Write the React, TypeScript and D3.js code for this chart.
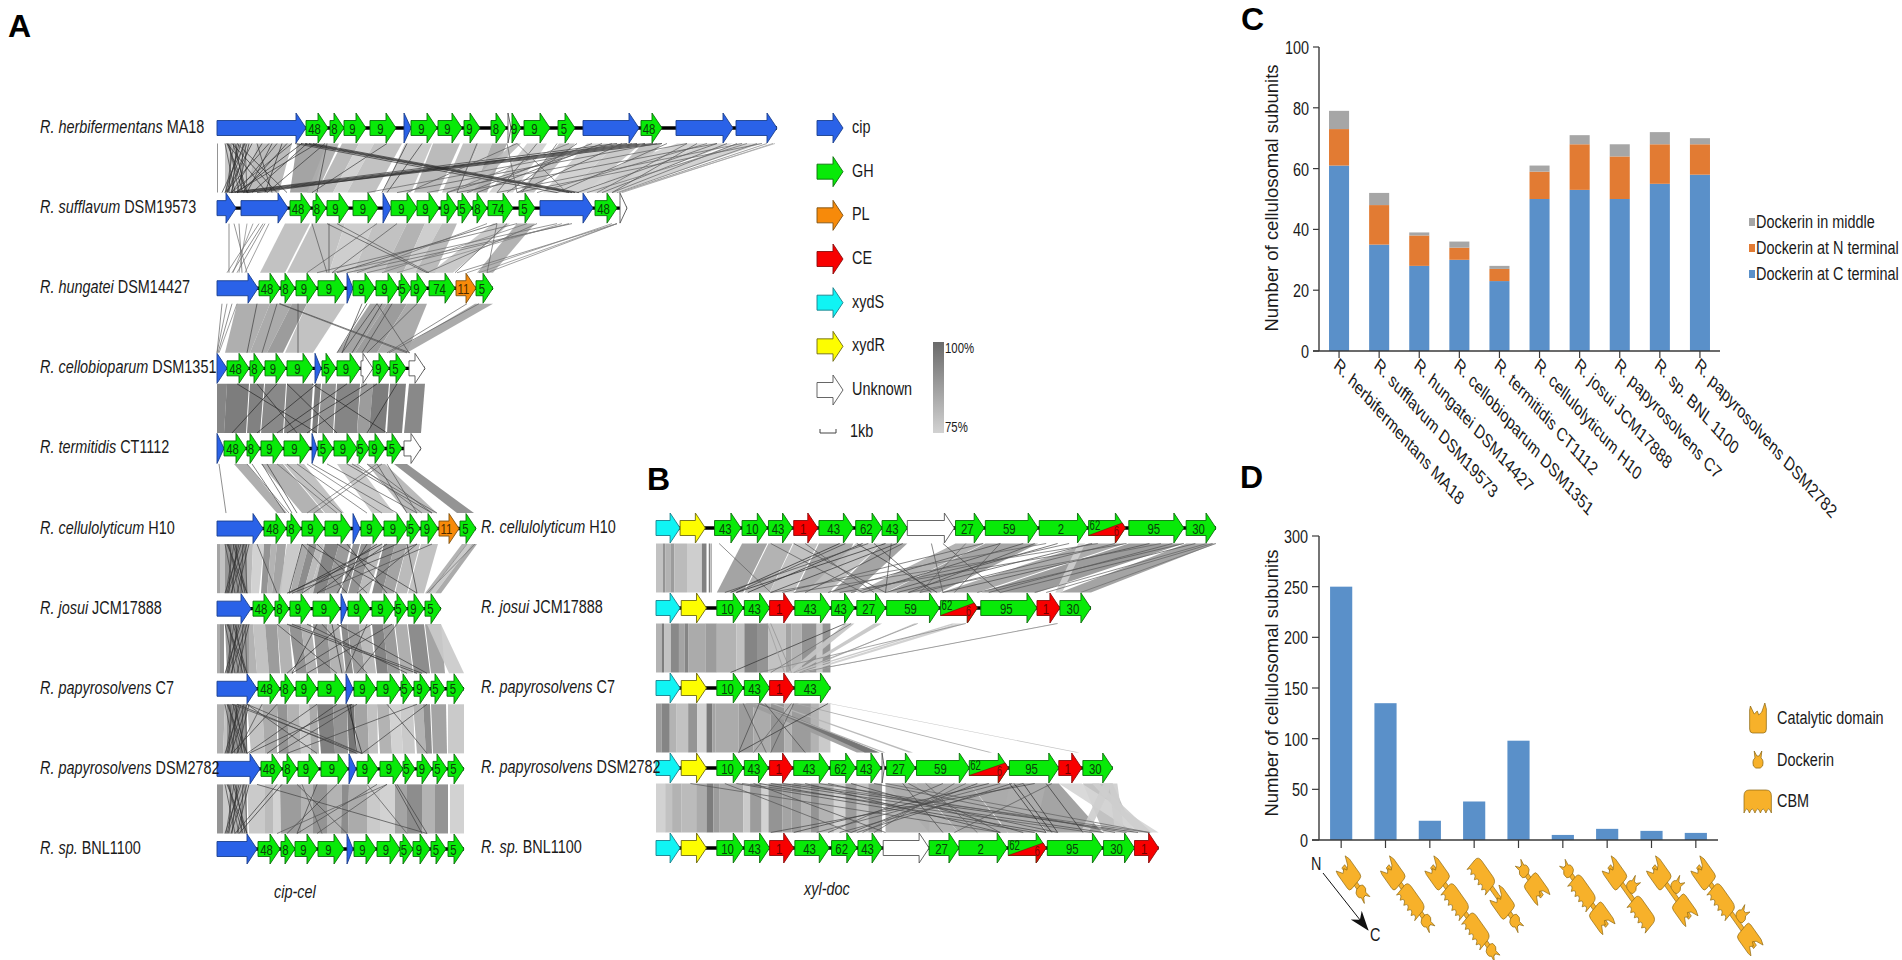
import React from 'react';
import * as d3 from 'd3';

type GeneType = 'cip' | 'GH' | 'PL' | 'CE' | 'xydS' | 'xydR' | 'unk' | 'chim';
type Gene = [GeneType, string, number, number];
type Ribbon = [number, number, number, number, number]; // top from, top to, bottom from, bottom to, identity %
type Stripe = [number, number, number]; // from, to, identity %
type Link = [number, number, number]; // top, bottom, identity %

// panel A gene tracks
const herbifermentans: Gene[] = [
  ['cip', '', 0, 89], ['GH', '48', 89, 111], ['GH', '8', 113, 127], ['GH', '9', 127, 149], ['GH', '9', 153, 179],
  ['cip', '', 187, 194], ['GH', '9', 194, 220], ['GH', '9', 221, 245], ['GH', '9', 247, 263], ['GH', '8', 274, 289],
  ['unk', '', 291, 294], ['GH', '9', 295, 304], ['GH', '9', 307, 333], ['GH', '5', 341, 358], ['cip', '', 366, 422],
  ['GH', '48', 424, 445], ['cip', '', 459, 516], ['cip', '', 519, 560],
];
const sufflavum: Gene[] = [
  ['cip', '', 0, 19], ['cip', '', 24, 71], ['GH', '48', 73, 94], ['GH', '8', 96, 109], ['GH', '9', 110, 132],
  ['GH', '9', 136, 161], ['cip', '', 166, 174], ['GH', '9', 174, 200], ['GH', '9', 200, 222], ['GH', '9', 224, 240],
  ['GH', '5', 241, 255], ['GH', '8', 256, 270], ['GH', '74', 271, 296], ['GH', '5', 302, 318], ['cip', '', 323, 376],
  ['GH', '48', 378, 400], ['unk', '', 403, 410],
];
const hungatei: Gene[] = [
  ['cip', '', 0, 41], ['GH', '48', 42, 63], ['GH', '8', 64, 78], ['GH', '9', 79, 100], ['GH', '9', 101, 128],
  ['cip', '', 130, 136], ['GH', '9', 136, 158], ['GH', '9', 159, 181], ['GH', '5', 182, 194], ['GH', '9', 194, 210],
  ['GH', '74', 212, 238], ['PL', '11', 239, 259], ['GH', '5', 259, 276],
];
const cellobioparum: Gene[] = [
  ['cip', '', 0, 10], ['GH', '48', 10, 32], ['GH', '8', 33, 47], ['GH', '9', 48, 69], ['GH', '9', 70, 96],
  ['cip', '', 98, 104], ['GH', '5', 105, 119], ['GH', '9', 120, 143], ['unk', '', 144, 156], ['GH', '9', 156, 172],
  ['GH', '5', 173, 189], ['unk', '', 192, 208],
];
const termitidis: Gene[] = [
  ['cip', '', 0, 7], ['GH', '48', 7, 29], ['GH', '8', 30, 43], ['GH', '9', 44, 66], ['GH', '9', 67, 93],
  ['cip', '', 95, 100], ['GH', '5', 101, 116], ['GH', '9', 117, 140], ['GH', '5', 140, 152], ['GH', '9', 152, 168],
  ['GH', '5', 170, 185], ['unk', '', 187, 204],
];
const cellulolyticum: Gene[] = [
  ['cip', '', 0, 46], ['GH', '48', 47, 69], ['GH', '8', 70, 84], ['GH', '9', 85, 107], ['GH', '9', 108, 134],
  ['cip', '', 136, 143], ['GH', '9', 144, 166], ['GH', '9', 167, 190], ['GH', '5', 190, 203], ['GH', '9', 204, 221],
  ['PL', '11', 222, 242], ['GH', '5', 243, 259],
];
const josui: Gene[] = [
  ['cip', '', 0, 34], ['GH', '48', 36, 57], ['GH', '8', 58, 72], ['GH', '9', 73, 94], ['GH', '9', 96, 123],
  ['cip', '', 124, 130], ['GH', '9', 131, 153], ['GH', '9', 155, 177], ['GH', '5', 178, 190], ['GH', '9', 191, 207],
  ['GH', '5', 208, 224],
];
const papyrosolvensC7: Gene[] = [
  ['cip', '', 0, 40], ['GH', '48', 41, 63], ['GH', '8', 64, 78], ['GH', '9', 79, 100], ['GH', '9', 101, 128],
  ['cip', '', 129, 136], ['GH', '9', 137, 159], ['GH', '9', 160, 183], ['GH', '5', 184, 196], ['GH', '9', 197, 213],
  ['GH', '5', 214, 228], ['GH', '5', 230, 247],
];
const papyrosolvensDSM: Gene[] = [
  ['cip', '', 0, 43], ['GH', '48', 44, 65], ['GH', '8', 66, 80], ['GH', '9', 81, 102], ['GH', '9', 104, 131],
  ['cip', '', 132, 139], ['GH', '9', 140, 161], ['GH', '9', 163, 186], ['GH', '5', 186, 198], ['GH', '9', 200, 215],
  ['GH', '5', 216, 230], ['GH', '5', 231, 247],
];
const bnl1100: Gene[] = [
  ['cip', '', 0, 40], ['GH', '48', 41, 63], ['GH', '8', 64, 78], ['GH', '9', 78, 100], ['GH', '9', 101, 127],
  ['cip', '', 130, 136], ['GH', '9', 137, 159], ['GH', '9', 160, 183], ['GH', '5', 183, 196], ['GH', '9', 196, 213],
  ['GH', '5', 214, 229], ['GH', '5', 231, 247],
];
const tracksA = [herbifermentans, sufflavum, hungatei, cellobioparum, termitidis, cellulolyticum, josui, papyrosolvensC7, papyrosolvensDSM, bnl1100];

// panel B gene tracks
const xylCellulolyticum: Gene[] = [
  ['xydS', '', 0, 21], ['xydR', '', 21, 43], ['GH', '43', 51, 74], ['GH', '10', 75, 97], ['GH', '43', 98, 119],
  ['CE', '1', 120, 141], ['GH', '43', 142, 172], ['GH', '62', 174, 197], ['GH', '43', 197, 219], ['unk', '', 219, 260],
  ['GH', '27', 261, 286], ['GH', '59', 287, 333], ['GH', '2', 334, 376], ['chim', '62', 377, 409], ['GH', '95', 412, 460],
  ['GH', '30', 462, 488],
];
const xylJosui: Gene[] = [
  ['xydS', '', 0, 21], ['xydR', '', 22, 44], ['GH', '10', 53, 76], ['GH', '43', 77, 99], ['CE', '1', 99, 120],
  ['GH', '43', 121, 152], ['GH', '43', 153, 173], ['GH', '27', 175, 200], ['GH', '59', 201, 247], ['chim', '62', 248, 280],
  ['GH', '95', 283, 332], ['CE', '1', 332, 352], ['GH', '30', 352, 379],
];
const xylC7: Gene[] = [
  ['xydS', '', 0, 21], ['xydR', '', 22, 44], ['GH', '10', 53, 76], ['GH', '43', 77, 99], ['CE', '1', 99, 120], ['GH', '43', 121, 152],
];
const xylDSM: Gene[] = [
  ['xydS', '', 0, 21], ['xydR', '', 22, 44], ['GH', '10', 53, 76], ['GH', '43', 77, 98], ['CE', '1', 99, 119],
  ['GH', '43', 120, 151], ['GH', '62', 152, 174], ['GH', '43', 175, 196], ['unk', '', 197, 199], ['GH', '27', 201, 226],
  ['GH', '59', 227, 273], ['chim', '62', 273, 307], ['GH', '95', 308, 351], ['CE', '1', 351, 371], ['GH', '30', 372, 398],
];
const xylBNL: Gene[] = [
  ['xydS', '', 0, 21], ['xydR', '', 22, 44], ['GH', '10', 53, 76], ['GH', '43', 77, 99], ['CE', '1', 99, 120],
  ['GH', '43', 121, 151], ['GH', '62', 153, 175], ['GH', '43', 176, 197], ['unk', '', 198, 238], ['GH', '27', 238, 264],
  ['GH', '2', 264, 306], ['chim', '62', 307, 340], ['GH', '95', 341, 389], ['GH', '30', 390, 417], ['CE', '1', 417, 438],
];
const tracksB = [xylCellulolyticum, xylJosui, xylC7, xylDSM, xylBNL];

const speciesA: [string, string][] = [
  ['R. herbifermentans', 'MA18'], ['R. sufflavum', 'DSM19573'], ['R. hungatei', 'DSM14427'], ['R. cellobioparum', 'DSM1351'],
  ['R. termitidis', 'CT1112'], ['R. cellulolyticum', 'H10'], ['R. josui', 'JCM17888'], ['R. papyrosolvens', 'C7'],
  ['R. papyrosolvens', 'DSM2782'], ['R. sp.', 'BNL1100'],
];
const speciesB = speciesA.slice(5);

// homology between neighbouring tracks of panel A
const cipTangle: Link[] = [
  [10, 30, 98], [14, 12, 96], [18, 28, 99], [22, 10, 98], [26, 24, 97], [30, 14, 99], [12, 22, 95], [24, 8, 98], [8, 18, 96], [28, 30, 94],
  [16, 30, 97], [20, 15, 99], [32, 20, 98], [11, 26, 97], [27, 11, 96], [17, 9, 95],
];
const ribbonsA1: Ribbon[] = [
  [0, 1, 0, 1, 92], [8, 40, 8, 32, 78], [40, 75, 30, 62, 82], [80, 110, 73, 96, 88], [110, 122, 90, 100, 84], [125, 142, 100, 116, 82],
  [142, 157, 116, 130, 76], [157, 185, 130, 158, 80], [188, 215, 166, 194, 78], [216, 243, 197, 221, 82], [246, 262, 225, 241, 80], [262, 275, 241, 256, 77], [275, 290, 256, 270, 85],
  [296, 304, 241, 254, 80], [310, 330, 272, 296, 76], [342, 358, 302, 317, 80], [370, 400, 326, 350, 76], [400, 424, 350, 368, 78],
  [426, 445, 378, 400, 80], [460, 490, 330, 360, 76], [490, 516, 360, 380, 76], [520, 545, 380, 398, 76],
];
const linesA1: Link[] = [
  ...cipTangle,
  [10, 50, 98], [15, 60, 99], [20, 70, 98], [28, 5, 97], [35, 10, 98], [45, 15, 99], [52, 8, 98], [60, 20, 97], [70, 25, 99], [40, 55, 97],
  [55, 30, 98], [65, 48, 99], [75, 14, 97], [85, 20, 99], [90, 35, 98], [100, 18, 98], [108, 50, 97],
  [84, 352, 100], [88, 355, 100], [92, 358, 100], [96, 362, 98], [78, 340, 98], [420, 14, 100], [428, 20, 100], [436, 26, 99], [445, 30, 100],
  [410, 40, 98], [400, 12, 97], [110, 100, 97], [170, 95, 96], [190, 165, 98], [205, 170, 97], [260, 240, 94], [290, 300, 90], [300, 350, 90],
  [320, 280, 92], [340, 305, 90], [360, 290, 92], [375, 250, 92], [385, 260, 94], [395, 230, 92], [405, 300, 94], [450, 340, 92], [470, 380, 90],
  [480, 395, 92], [490, 320, 90], [500, 360, 92], [510, 385, 92], [520, 395, 90], [530, 370, 88], [540, 400, 88], [550, 402, 86], [556, 405, 82],
  [558, 402, 78], [545, 300, 90], [525, 280, 90], [500, 240, 92], [470, 210, 90], [440, 180, 92], [415, 150, 90], [352, 230, 88], [300, 190, 92],
];
const ribbonsA2: Ribbon[] = [
  [68, 93, 43, 68, 80], [95, 128, 70, 112, 80], [128, 157, 112, 136, 77], [157, 190, 136, 166, 80], [190, 208, 166, 186, 84], [208, 225, 186, 198, 77], [225, 240, 198, 218, 82],
  [276, 293, 213, 236, 78], [300, 318, 260, 276, 84],
];
const linesA2: Link[] = [
  [12, 12, 90], [17, 30, 88], [46, 15, 90], [48, 20, 88], [36, 16, 86], [42, 10, 88], [30, 22, 84], [22, 25, 90], [52, 28, 86],
  [400, 240, 88], [400, 262, 84], [400, 270, 86], [395, 250, 85], [280, 270, 90], [290, 238, 92], [320, 210, 90], [355, 130, 90], [352, 150, 88],
  [340, 115, 88], [300, 100, 90], [280, 120, 94], [110, 210, 94], [120, 212, 92], [95, 110, 92], [112, 112, 94], [180, 115, 92], [160, 90, 90],
  [345, 180, 84], [310, 165, 86], [270, 140, 88],
];
const ribbonsA3: Ribbon[] = [
  [20, 53, 8, 33, 85], [53, 75, 33, 50, 86], [75, 90, 50, 66, 90], [90, 128, 68, 96, 80], [153, 170, 120, 138, 88], [170, 190, 138, 160, 90],
  [190, 210, 160, 190, 86], [258, 276, 175, 190, 86],
];
const linesA3: Link[] = [
  [5, 0, 90], [10, 0, 88], [15, 1, 90], [20, 2, 86], [150, 120, 95], [160, 125, 96], [165, 135, 97], [175, 145, 95], [63, 193, 94], [62, 190, 92],
  [81, 81, 95], [160, 192, 93], [145, 125, 96], [250, 170, 90], [262, 172, 90], [40, 30, 96], [60, 45, 94], [200, 150, 94],
];
const ribbonsA4: Ribbon[] = [
  [0, 10, 0, 7, 96], [10, 32, 7, 29, 98], [33, 47, 30, 43, 97], [48, 69, 44, 66, 95], [70, 96, 67, 93, 96], [98, 104, 95, 100, 98],
  [105, 119, 101, 116, 92], [120, 143, 117, 140, 96], [144, 156, 140, 152, 90], [156, 172, 152, 168, 98], [173, 189, 170, 185, 97], [192, 208, 187, 204, 95],
];
const linesA4: Link[] = [
  [20, 100, 100], [60, 15, 100], [70, 120, 100], [130, 60, 100], [95, 170, 100], [160, 90, 100], [180, 150, 100], [40, 80, 99], [100, 40, 100], [150, 70, 99],
];
const ribbonsA5: Ribbon[] = [
  [17, 30, 60, 70, 85], [44, 66, 85, 107, 84], [67, 87, 108, 127, 80], [120, 140, 155, 177, 78], [150, 168, 190, 220, 82], [177, 190, 240, 257, 92],
];
const linesA5: Link[] = [
  [2, 9, 90], [165, 97, 90], [160, 90, 88], [110, 200, 92], [130, 215, 94], [135, 220, 92], [80, 150, 90], [95, 180, 92], [160, 190, 94], [170, 200, 92],
  [60, 120, 90], [45, 75, 94], [50, 80, 96], [90, 165, 88], [30, 72, 90], [35, 68, 94], [70, 125, 92], [140, 205, 90], [150, 215, 92],
];
const ribbonsA6: Ribbon[] = [
  [0, 3, 0, 3, 88], [3, 8, 3, 8, 80], [8, 30, 8, 30, 92], [30, 36, 30, 34, 82], [36, 47, 34, 42, 76], [47, 54, 44, 50, 92], [54, 60, 50, 55, 84], [60, 69, 55, 64, 88],
  [70, 84, 62, 72, 78], [85, 92, 73, 79, 86], [92, 100, 79, 86, 94], [100, 107, 86, 92, 82], [107, 108, 92, 96, 80], [108, 122, 96, 108, 96], [122, 134, 108, 122, 90],
  [136, 143, 124, 130, 92], [144, 155, 131, 141, 92], [155, 166, 141, 152, 82], [167, 178, 155, 165, 94], [178, 190, 165, 177, 88], [190, 203, 178, 190, 82],
  [204, 221, 191, 207, 80], [245, 250, 208, 212, 84], [250, 255, 212, 218, 78], [255, 260, 218, 224, 86],
];
const linesA6: Link[] = [
  ...cipTangle,
  [85, 72, 100], [85, 130, 98], [100, 150, 96], [90, 180, 97], [165, 72, 100], [160, 85, 98], [180, 70, 98], [200, 75, 96], [190, 200, 98], [120, 200, 97],
  [130, 170, 99], [150, 120, 98], [170, 100, 97], [40, 60, 95], [200, 140, 96], [215, 100, 94], [258, 210, 88], [250, 212, 84],
];
const ribbonsA7: Ribbon[] = [
  [0, 3, 0, 3, 86], [3, 7, 3, 7, 92], [8, 32, 10, 32, 90], [32, 36, 32, 40, 84], [36, 48, 40, 52, 80], [48, 60, 52, 63, 90], [60, 72, 64, 76, 84], [72, 84, 79, 90, 92], [84, 94, 90, 100, 84],
  [96, 110, 101, 114, 92], [110, 122, 114, 128, 84], [124, 130, 129, 136, 94], [130, 142, 137, 148, 90], [142, 153, 148, 159, 82], [155, 166, 160, 171, 96], [166, 177, 171, 183, 90],
  [178, 190, 184, 196, 85], [191, 207, 197, 213, 94], [208, 224, 214, 228, 88], [210, 224, 232, 247, 77],
];
const linesA7: Link[] = [
  ...cipTangle,
  [100, 75, 98], [115, 125, 97], [60, 120, 96], [75, 205, 96], [155, 75, 97], [105, 150, 96], [125, 70, 98], [150, 128, 96], [175, 90, 97], [180, 140, 95],
  [70, 200, 98], [120, 210, 97], [90, 190, 97],
];
const ribbonsA8: Ribbon[] = [
  [0, 8, 0, 6, 85], [8, 10, 6, 10, 80], [10, 30, 10, 30, 92], [30, 45, 34, 48, 80], [45, 60, 48, 60, 86], [60, 70, 62, 72, 92], [70, 82, 72, 84, 84], [82, 92, 84, 94, 78], [92, 100, 94, 102, 86],
  [100, 116, 104, 118, 97], [116, 130, 118, 131, 92], [130, 137, 132, 139, 100], [137, 150, 140, 152, 88], [150, 160, 152, 161, 80], [160, 172, 163, 175, 84], [172, 183, 175, 186, 76],
  [183, 196, 186, 198, 78], [196, 206, 200, 209, 84], [206, 213, 209, 215, 94], [214, 229, 216, 230, 88], [231, 247, 231, 247, 78],
];
const linesA8: Link[] = [
  ...cipTangle,
  [60, 15, 98], [45, 20, 96], [30, 100, 96], [20, 140, 97], [100, 30, 96], [120, 50, 98], [135, 32, 97], [140, 60, 96], [200, 70, 95], [210, 145, 96], [170, 210, 95],
  [130, 145, 100], [133, 140, 100], [30, 145, 95], [15, 145, 94],
];
const ribbonsA9: Ribbon[] = [
  [0, 6, 0, 6, 92], [6, 12, 6, 12, 78], [12, 30, 12, 30, 84], [30, 48, 32, 48, 78], [48, 56, 48, 56, 82], [56, 63, 56, 64, 76], [63, 84, 64, 84, 90], [84, 96, 84, 96, 84], [96, 110, 96, 110, 92], [110, 125, 110, 124, 84],
  [125, 132, 124, 131, 94], [132, 150, 131, 150, 86], [150, 163, 150, 163, 78], [163, 178, 163, 178, 76], [178, 190, 178, 190, 88], [190, 205, 190, 205, 94], [205, 218, 205, 218, 84],
  [218, 231, 218, 231, 92], [233, 247, 233, 247, 76],
];
const linesA9: Link[] = [
  ...cipTangle,
  [65, 22, 99], [60, 18, 98], [40, 210, 95], [80, 130, 94], [100, 80, 96], [160, 80, 94], [120, 70, 96], [170, 60, 92], [180, 210, 96], [178, 205, 96], [150, 190, 92],
  [170, 100, 93], [85, 105, 92],
];

// homology between neighbouring tracks of panel B
const stripesB1: Stripe[] = [[0, 6, 80], [6, 8, 92], [8, 13, 84], [13, 16, 90], [16, 27, 82], [27, 40, 77], [40, 44, 97], [46, 47, 100], [47.5, 48.5, 94]];
const ribbonsB1: Ribbon[] = [
  [75, 97, 53, 76, 88], [98, 119, 77, 99, 84], [120, 141, 99, 120, 80], [142, 172, 121, 152, 86], [197, 219, 153, 173, 88], [261, 286, 175, 200, 84],
  [287, 333, 201, 247, 88], [377, 409, 248, 280, 86], [412, 460, 283, 332, 90], [462, 488, 352, 379, 88], [368, 374, 348, 354, 76], [174, 197, 130, 150, 80],
];
const linesB1: Link[] = [
  [55, 100, 90], [160, 65, 100], [180, 80, 100], [200, 70, 100], [210, 100, 98], [175, 245, 98], [190, 240, 97], [205, 200, 95], [240, 250, 92], [250, 300, 95], [270, 230, 90],
  [300, 150, 94], [320, 180, 95], [350, 200, 95], [380, 210, 94], [400, 230, 92], [430, 250, 94], [450, 290, 92], [470, 300, 92], [485, 340, 90], [488, 370, 88], [480, 330, 90],
  [460, 280, 92], [440, 220, 90], [410, 160, 92], [385, 120, 90], [360, 170, 92], [340, 100, 90], [330, 220, 94], [300, 260, 92], [285, 110, 92], [165, 70, 96], [185, 60, 94],
  [215, 130, 96], [120, 200, 94], [130, 190, 92], [100, 180, 92],
];
const stripesB2: Stripe[] = [
  [0, 5, 84], [5, 7, 98], [7, 13, 80], [13, 20, 95], [20, 25, 88], [25, 28, 96], [28, 43, 86], [43, 53, 90], [53, 70, 84], [70, 77, 80], [77, 88, 96], [88, 98, 92],
  [98, 113, 80], [113, 118, 88], [118, 127, 84], [127, 140, 92], [140, 145, 78], [145, 152, 92],
];
const ribbonsB2: Ribbon[] = [[165, 173, 115, 120, 78], [190, 197, 120, 124, 78], [258, 262, 118, 122, 78], [262, 270, 125, 130, 76], [348, 350, 125, 128, 80], [225, 227, 122, 124, 80]];
const linesB2: Link[] = [[165, 65, 98], [100, 118, 82], [350, 125, 84], [270, 90, 84], [170, 100, 88], [97, 112, 80], [228, 120, 82]];
const stripesB3: Stripe[] = [
  [0, 5, 90], [5, 12, 96], [12, 18, 84], [18, 28, 80], [28, 36, 92], [36, 44, 76], [44, 49, 99], [49, 52, 88], [52, 72, 86], [72, 85, 90], [85, 100, 86], [100, 112, 92],
  [112, 118, 84], [118, 135, 90], [135, 142, 84], [142, 152, 78],
];
const ribbonsB3: Ribbon[] = [[78, 90, 175, 193, 88], [88, 92, 182, 195, 98], [85, 88, 197, 200, 84], [100, 103, 220, 224, 82], [120, 123, 290, 293, 85], [150, 152, 366, 369, 80]];
const linesB3: Link[] = [[150, 72, 98], [76, 96, 92], [90, 72, 95], [120, 100, 92], [95, 130, 94], [118, 85, 90]];
const stripesB4: Stripe[] = [
  [0, 8, 76], [8, 14, 80], [14, 22, 84], [22, 35, 82], [35, 44, 86], [44, 50, 98], [50, 55, 90], [55, 76, 86], [76, 82, 78], [82, 92, 90], [92, 98, 76], [98, 110, 92], [110, 118, 88],
  [118, 127, 90], [127, 135, 84], [135, 142, 92], [142, 155, 84], [155, 165, 76], [165, 175, 90], [175, 185, 80], [185, 197, 90],
];
const ribbonsB4: Ribbon[] = [
  [201, 226, 238, 264, 84], [227, 273, 264, 306, 86], [273, 307, 307, 340, 86], [308, 351, 341, 389, 88], [372, 398, 390, 417, 80], [351, 371, 417, 438, 74], [308, 340, 300, 330, 84],
  [200, 240, 200, 238, 84], [390, 398, 370, 377, 76], [395, 402, 400, 408, 76], [380, 386, 420, 432, 76],
];
const linesB4: Link[] = [
  [30, 300, 92], [70, 330, 94], [75, 380, 92], [90, 340, 96], [100, 390, 94], [110, 420, 95], [120, 430, 90], [130, 300, 95], [142, 410, 92], [150, 350, 94], [170, 320, 95], [190, 400, 92],
  [200, 430, 90], [220, 300, 93], [280, 170, 95], [290, 120, 96], [300, 140, 92], [310, 175, 94], [320, 160, 93], [330, 100, 95], [250, 150, 93], [260, 190, 92], [270, 180, 90],
  [308, 340, 100], [312, 345, 100], [320, 350, 99], [340, 372, 98], [85, 200, 94], [60, 170, 92], [235, 280, 90], [215, 250, 94], [345, 260, 92],
];

const stripesToRibbons = (stripes: Stripe[]): Ribbon[] => stripes.map(([a, b, id]) => [a, b, a, b, id]);
const gapsA = [
  { ribbons: ribbonsA1, lines: linesA1 }, { ribbons: ribbonsA2, lines: linesA2 }, { ribbons: ribbonsA3, lines: linesA3 },
  { ribbons: ribbonsA4, lines: linesA4 }, { ribbons: ribbonsA5, lines: linesA5 }, { ribbons: ribbonsA6, lines: linesA6 },
  { ribbons: ribbonsA7, lines: linesA7 }, { ribbons: ribbonsA8, lines: linesA8 }, { ribbons: ribbonsA9, lines: linesA9 },
];
const gapsB = [
  { ribbons: [...stripesToRibbons(stripesB1), ...ribbonsB1], lines: linesB1 },
  { ribbons: [...stripesToRibbons(stripesB2), ...ribbonsB2], lines: linesB2 },
  { ribbons: [...stripesToRibbons(stripesB3), ...ribbonsB3], lines: linesB3 },
  { ribbons: [...stripesToRibbons(stripesB4), ...ribbonsB4], lines: linesB4 },
];

// panel C
const strainsC = [
  'R. herbifermentans MA18', 'R. sufflavum DSM19573', 'R. hungatei DSM14427', 'R. cellobioparum DSM1351', 'R. termitidis CT1112',
  'R. cellulolyticum H10', 'R. josui JCM17888', 'R. papyrosolvens C7', 'R. sp. BNL 1100', 'R. papyrosolvens DSM2782',
];
const dockerinC = [61, 35, 28, 30, 23, 50, 53, 50, 55, 58];
const dockerinN = [12, 13, 10, 4, 4, 9, 15, 14, 13, 10];
const dockerinMiddle = [6, 4, 1, 2, 1, 2, 3, 4, 4, 2];
const seriesC = [
  { name: 'Dockerin at C terminal', values: dockerinC, color: '#5a90c9' },
  { name: 'Dockerin at N terminal', values: dockerinN, color: '#e27b33' },
  { name: 'Dockerin in middle', values: dockerinMiddle, color: '#a6a6a6' },
];

// panel D
type Domain = 'cat' | 'cbm' | 'doc' | 'mid';
const architectures: Domain[][] = [
  ['cat', 'doc'], ['cat', 'cbm', 'doc'], ['cat', 'cbm', 'cbm', 'doc'], ['cbm', 'cat', 'doc'], ['doc', 'cat'],
  ['doc', 'cbm', 'cat'], ['cat', 'mid', 'cbm'], ['cat', 'mid', 'cat'], ['cat', 'cbm', 'mid', 'cat'],
];
const architectureCounts = [250, 135, 19, 38, 98, 5, 11, 9, 7];

const legendA: [GeneType, string][] = [['cip', 'cip'], ['GH', 'GH'], ['PL', 'PL'], ['CE', 'CE'], ['xydS', 'xydS'], ['xydR', 'xydR'], ['unk', 'Unknown']];

const FONT = '"Liberation Sans", Arial, sans-serif';
const SQUEEZE = 0.76;
const ORANGE = '#f7b12a';
const ORANGE_LINE = '#8a6510';

const geneFill: Record<GeneType, string> = {
  cip: '#2a62e8', GH: '#08ea08', PL: '#f78a0a', CE: '#f80000', xydS: '#10f4f4', xydR: '#fdfd00', unk: '#ffffff', chim: '#08ea08',
};
const geneInk: Record<GeneType, string> = {
  cip: '#1b3f8c', GH: '#0c6e0c', PL: '#7d5010', CE: '#8a0b0b', xydS: '#1a7f8a', xydR: '#6e6a10', unk: '#555555', chim: '#0c6e0c',
};

const identityFill = d3.scaleLinear<string>().domain([75, 100]).range(['#d2d2d2', '#6a6a6a']);
const identityLine = d3.scaleLinear<string>().domain([75, 100]).range(['#b8b8b8', '#262626']);

function Txt({ x, y, size = 19, rotate = 0, anchor = 'start', sx = SQUEEZE, weight, style, fill = '#1a1a1a', children }: any) {
  return (
    <text
      transform={`translate(${x},${y}) scale(${sx},1) rotate(${rotate})`}
      fontFamily={FONT}
      fontSize={size}
      fontWeight={weight}
      fontStyle={style}
      textAnchor={anchor}
      fill={fill}>
      {children}
    </text>
  );
}

const arrowPoints = (x0: number, x1: number, y: number): [number, number][] => {
  const head = Math.min(x1 - x0, 10);
  const xb = x1 - head;
  return [[x0, y - 7.5], [xb, y - 7.5], [xb, y - 15], [x1, y], [xb, y + 15], [xb, y + 7.5], [x0, y + 7.5]];
};
const polyline = d3.line();
const closed = (pts: [number, number][]) => `${polyline(pts)}Z`;

function GeneArrow({ type, label, x0, x1, y }: { type: GeneType; label: string; x0: number; x1: number; y: number }) {
  const head = Math.min(x1 - x0, 10);
  const xb = x1 - head;
  const isChim = type === 'chim';
  const ink = isChim ? '#7a0b0b' : type === 'CE' ? '#6d0000' : type === 'PL' ? '#4a2a00' : '#0a400a';
  return (
    <g>
      <path d={closed(arrowPoints(x0, x1, y))} fill={geneFill[type]} stroke={geneInk[type]} strokeWidth={0.9} />
      {isChim && (
        <path d={closed([[x0, y + 7.5], [x1 - 3, y - 5], [x1, y], [xb, y + 15], [xb, y + 7.5]])} fill="#f80000" stroke="#8a0b0b" strokeWidth={0.7} />
      )}
      {isChim ? (
        <>
          <Txt x={x0 + 1} y={y + 2} size={14} sx={0.68} fill="#0a400a">{label}</Txt>
          <Txt x={xb + 1} y={y + 8} size={14} sx={0.68} anchor="middle" fill={ink}>6</Txt>
        </>
      ) : (
        label && <Txt x={(x0 + x1 - head / 2) / 2} y={y + 5.5} size={15} sx={0.76} anchor="middle" fill={ink}>{label}</Txt>
      )}
    </g>
  );
}

function SyntenyPanel({ tracks, gaps, xScale, yScale, names }: any) {
  return (
    <g>
      {gaps.map((gap: any, i: number) => {
        const yTop = yScale(names[i]) + 15.5;
        const yBot = yScale(names[i + 1]) - 15.5;
        return (
          <g key={i}>
            {gap.ribbons.map((r: Ribbon, j: number) => (
              <path
                key={j}
                d={closed([[xScale(r[0]), yTop], [xScale(r[1]), yTop], [xScale(r[3]), yBot], [xScale(r[2]), yBot]])}
                fill={identityFill(r[4])}
                fillOpacity={0.92}
              />
            ))}
            {gap.lines.map((l: Link, j: number) => (
              <line key={j} x1={xScale(l[0])} x2={xScale(l[1])} y1={yTop} y2={yBot} stroke={identityLine(l[2])} strokeWidth={0.7} />
            ))}
          </g>
        );
      })}
      {tracks.map((track: Gene[], i: number) => {
        const y = yScale(names[i]);
        return (
          <g key={i}>
            <line x1={xScale(track[0][2])} x2={xScale(track[track.length - 1][3])} y1={y} y2={y} stroke="#000" strokeWidth={3.4} />
            {track.map((g, j) => (
              <GeneArrow key={j} type={g[0]} label={g[1]} x0={xScale(g[2])} x1={xScale(g[3])} y={y} />
            ))}
          </g>
        );
      })}
    </g>
  );
}

function StrainLabel({ x, y, species, strain }: any) {
  return (
    <text transform={`translate(${x},${y}) scale(${SQUEEZE},1)`} fontFamily={FONT} fontSize={19} fill="#1a1a1a">
      <tspan fontStyle="italic">{species}</tspan> {strain}
    </text>
  );
}

const catPath = 'M0,-9L9,-5L12,-1L8,1L11,5L3,10L7,11L26,11Q30,11 30,7L30,-7Q30,-11 26,-11L6,-11Z';
const docPath = 'M2,-6Q8,-8 10,-4L17,-5L12,-1.5L12,1.5L17,5L10,4Q8,8 2,6Q-1,3 0,0Q-1,-3 2,-6Z';
const cbmPath = (len: number, teeth: number, halfUp = 12) => {
  const p = d3.path();
  p.moveTo(0, 11);
  p.lineTo(0, -halfUp + 6);
  p.quadraticCurveTo(0, -halfUp, 7, -halfUp);
  p.lineTo(len - 7, -halfUp);
  p.quadraticCurveTo(len, -halfUp, len, -halfUp + 6);
  p.lineTo(len, 11);
  const w = len / teeth;
  for (let i = 0; i < teeth; i += 1) {
    p.quadraticCurveTo(len - (i + 0.5) * w, 3, len - (i + 1) * w, 11);
  }
  p.closePath();
  return p.toString();
};

const domainLength: Record<Domain, number> = { cat: 30, cbm: 35, doc: 18, mid: 12 };
const LINKER = 5;

function Architecture({ x, y, domains }: { x: number; y: number; domains: Domain[] }) {
  const total = d3.sum(domains, (d) => domainLength[d]) + LINKER * (domains.length - 1);
  let pos = 0;
  const paint = { fill: ORANGE, stroke: ORANGE_LINE, strokeWidth: 0.7, strokeLinejoin: 'round' as const };
  return (
    <g transform={`translate(${x},${y}) scale(${SQUEEZE},1) rotate(47)`}>
      <rect x={6} y={-2.5} width={total - 12} height={5} {...paint} />
      {domains.map((d, i) => {
        const start = pos;
        const len = domainLength[d];
        pos += len + LINKER;
        const atEnd = i === domains.length - 1;
        if (d === 'cbm') return <path key={i} d={cbmPath(len, 5, 9)} transform={`translate(${start},0)`} {...paint} />;
        if (d === 'mid') return <path key={i} d={docPath} transform={`translate(${start + len / 2},-2) rotate(-90)`} {...paint} />;
        if (d === 'cat') {
          return <path key={i} d={catPath} transform={atEnd ? `translate(${start + len},0) scale(-1,1)` : `translate(${start},0)`} {...paint} />;
        }
        return <path key={i} d={docPath} transform={atEnd ? `translate(${start},0)` : `translate(${start + len},0) scale(-1,1)`} {...paint} />;
      })}
    </g>
  );
}

export default function App() {
  // panel A and B tracks
  const nameKeysA = speciesA.map((d) => d.join(' '));
  const nameKeysB = speciesB.map((d) => d.join(' '));
  const rowA = d3.scalePoint<string>().domain(nameKeysA).range([128, 849]);
  const rowB = d3.scalePoint<string>().domain(nameKeysB).range([528, 848]);
  const posA = d3.scaleLinear().domain([0, 560]).range([217, 777]);
  const posB = d3.scaleLinear().domain([0, 488]).range([656, 1216]);

  // panel C
  const xC = d3.scaleBand<string>().domain(strainsC).range([1319, 1720]).paddingInner(0.5).paddingOuter(0.25);
  const yC = d3.scaleLinear().domain([0, 100]).range([351, 47]);
  const stackC = d3
    .stack<number>()
    .keys(seriesC.map((s) => s.name))
    .value((i, key) => seriesC.find((s) => s.name === key)!.values[i])(strainsC.map((_, i) => i));

  // panel D
  const archKeys = architectures.map((a, i) => `${i}`);
  const xD = d3.scaleBand<string>().domain(archKeys).range([1319, 1718]).paddingInner(0.5).paddingOuter(0.25);
  const yD = d3.scaleLinear().domain([0, 300]).range([840, 536]);

  const axisInk = '#3a3a3a';
  const legendArrowY = d3.scalePoint<string>().domain(legendA.map((d) => d[0])).range([128, 390]);
  const paint = { fill: ORANGE, stroke: ORANGE_LINE, strokeWidth: 0.8, strokeLinejoin: 'round' as const };

  return (
    <svg width={1902} height={960} style={{ position: 'absolute', left: 0, top: 0, background: '#fff' }}>
      <defs>
        <linearGradient id="identity" x1="0" x2="0" y1="0" y2="1">
          <stop offset="0" stopColor={identityFill(100)} />
          <stop offset="1" stopColor={identityFill(75)} />
        </linearGradient>
        <marker id="nc-head" markerWidth="22" markerHeight="16" refX="19" refY="7" orient="auto" markerUnits="userSpaceOnUse">
          <path d="M0,0L20,7L0,14L6,7Z" fill="#111" />
        </marker>
      </defs>

      {/* panel letters */}
      <Txt x={8} y={37} size={32} sx={1} weight="bold" fill="#000">A</Txt>
      <Txt x={647} y={490} size={32} sx={1} weight="bold" fill="#000">B</Txt>
      <Txt x={1241} y={30} size={32} sx={1} weight="bold" fill="#000">C</Txt>
      <Txt x={1240} y={488} size={32} sx={1} weight="bold" fill="#000">D</Txt>

      {/* panel A */}
      <SyntenyPanel tracks={tracksA} gaps={gapsA} xScale={posA} yScale={rowA} names={nameKeysA} />
      {speciesA.map((s, i) => (
        <StrainLabel key={i} x={40} y={rowA(nameKeysA[i])! + 5} species={s[0]} strain={s[1]} />
      ))}
      <Txt x={274} y={898} style="italic">cip-cel</Txt>

      {/* gene legend */}
      {legendA.map(([type, name]) => {
        const y = legendArrowY(type)!;
        return (
          <g key={type}>
            <path d={closed(arrowPoints(817, 843, y))} fill={geneFill[type]} stroke={geneInk[type]} strokeWidth={0.9} />
            <Txt x={852} y={y + 5}>{name}</Txt>
          </g>
        );
      })}
      <path d="M820,429V433H836V429" fill="none" stroke="#444" strokeWidth={1} />
      <Txt x={850} y={437}>1kb</Txt>
      <rect x={933} y={342} width={11} height={91} fill="url(#identity)" />
      <Txt x={945} y={353} size={15}>100%</Txt>
      <Txt x={945} y={432} size={15}>75%</Txt>

      {/* panel B */}
      <SyntenyPanel tracks={tracksB} gaps={gapsB} xScale={posB} yScale={rowB} names={nameKeysB} />
      {speciesB.map((s, i) => (
        <StrainLabel key={i} x={481} y={rowB(nameKeysB[i])! + 5} species={s[0]} strain={s[1]} />
      ))}
      <Txt x={804} y={895} style="italic">xyl-doc</Txt>

      {/* panel C */}
      {stackC.map((layer, k) => (
        <g key={k} fill={seriesC[k].color}>
          {layer.map((d, i) => (
            <rect key={i} x={xC(strainsC[i])} width={xC.bandwidth()} y={yC(d[1])} height={yC(d[0]) - yC(d[1])} />
          ))}
        </g>
      ))}
      <line x1={1319} x2={1319} y1={47} y2={351} stroke={axisInk} strokeWidth={1.4} />
      <line x1={1313} x2={1720} y1={351} y2={351} stroke={axisInk} strokeWidth={1.4} />
      {yC.ticks(5).map((t) => (
        <g key={t}>
          <line x1={1313} x2={1319} y1={yC(t)} y2={yC(t)} stroke={axisInk} strokeWidth={1.2} />
          <Txt x={1309} y={yC(t) + 7} anchor="end">{t}</Txt>
        </g>
      ))}
      {strainsC.map((s) => {
        const x = xC(s)! + xC.bandwidth() / 2;
        return (
          <g key={s}>
            <line x1={x} x2={x} y1={351} y2={358} stroke={axisInk} strokeWidth={1.2} />
            <Txt x={x - 6} y={367} rotate={40}>{s}</Txt>
          </g>
        );
      })}
      <Txt x={1278} y={198} size={18.5} sx={0.98} rotate={-90} anchor="middle">Number of cellulosomal subunits</Txt>
      {seriesC.map((s, i) => {
        const y = d3.scaleLinear().domain([2, 0]).range([222, 274])(i);
        return (
          <g key={s.name}>
            <rect x={1749} y={y - 4} width={6} height={8} fill={s.color} />
            <Txt x={1756} y={y + 6}>{s.name}</Txt>
          </g>
        );
      })}

      {/* panel D */}
      {architectureCounts.map((v, i) => (
        <rect key={i} x={xD(archKeys[i])} width={xD.bandwidth()} y={yD(v)} height={yD(0) - yD(v)} fill="#5a90c9" />
      ))}
      <line x1={1319} x2={1319} y1={536} y2={840} stroke={axisInk} strokeWidth={1.4} />
      <line x1={1312} x2={1718} y1={840} y2={840} stroke={axisInk} strokeWidth={1.4} />
      {yD.ticks(6).map((t) => (
        <g key={t}>
          <line x1={1312} x2={1319} y1={yD(t)} y2={yD(t)} stroke={axisInk} strokeWidth={1.2} />
          <Txt x={1308} y={yD(t) + 7} anchor="end">{t}</Txt>
        </g>
      ))}
      {architectures.map((a, i) => {
        const x = xD(archKeys[i])! + xD.bandwidth() / 2;
        return (
          <g key={i}>
            <line x1={x} x2={x} y1={840} y2={848} stroke={axisInk} strokeWidth={1.2} />
            <Architecture x={x - 1} y={862} domains={a} />
          </g>
        );
      })}
      <Txt x={1278} y={683} size={18.5} sx={0.98} rotate={-90} anchor="middle">Number of cellulosomal subunits</Txt>
      <Txt x={1311} y={870}>N</Txt>
      <line x1={1323} y1={873} x2={1368} y2={930} stroke="#111" strokeWidth={1} markerEnd="url(#nc-head)" />
      <Txt x={1370} y={941}>C</Txt>

      <path d={catPath} transform={`translate(1758,703) scale(${SQUEEZE},1) rotate(90)`} {...paint} />
      <Txt x={1777} y={724}>Catalytic domain</Txt>
      <path d={docPath} transform={`translate(1758,768) scale(${SQUEEZE},1) rotate(-90)`} {...paint} />
      <Txt x={1777} y={766}>Dockerin</Txt>
      <path d={cbmPath(36, 5)} transform={`translate(1744,802) scale(${SQUEEZE},1)`} {...paint} />
      <Txt x={1777} y={807}>CBM</Txt>
    </svg>
  );
}
